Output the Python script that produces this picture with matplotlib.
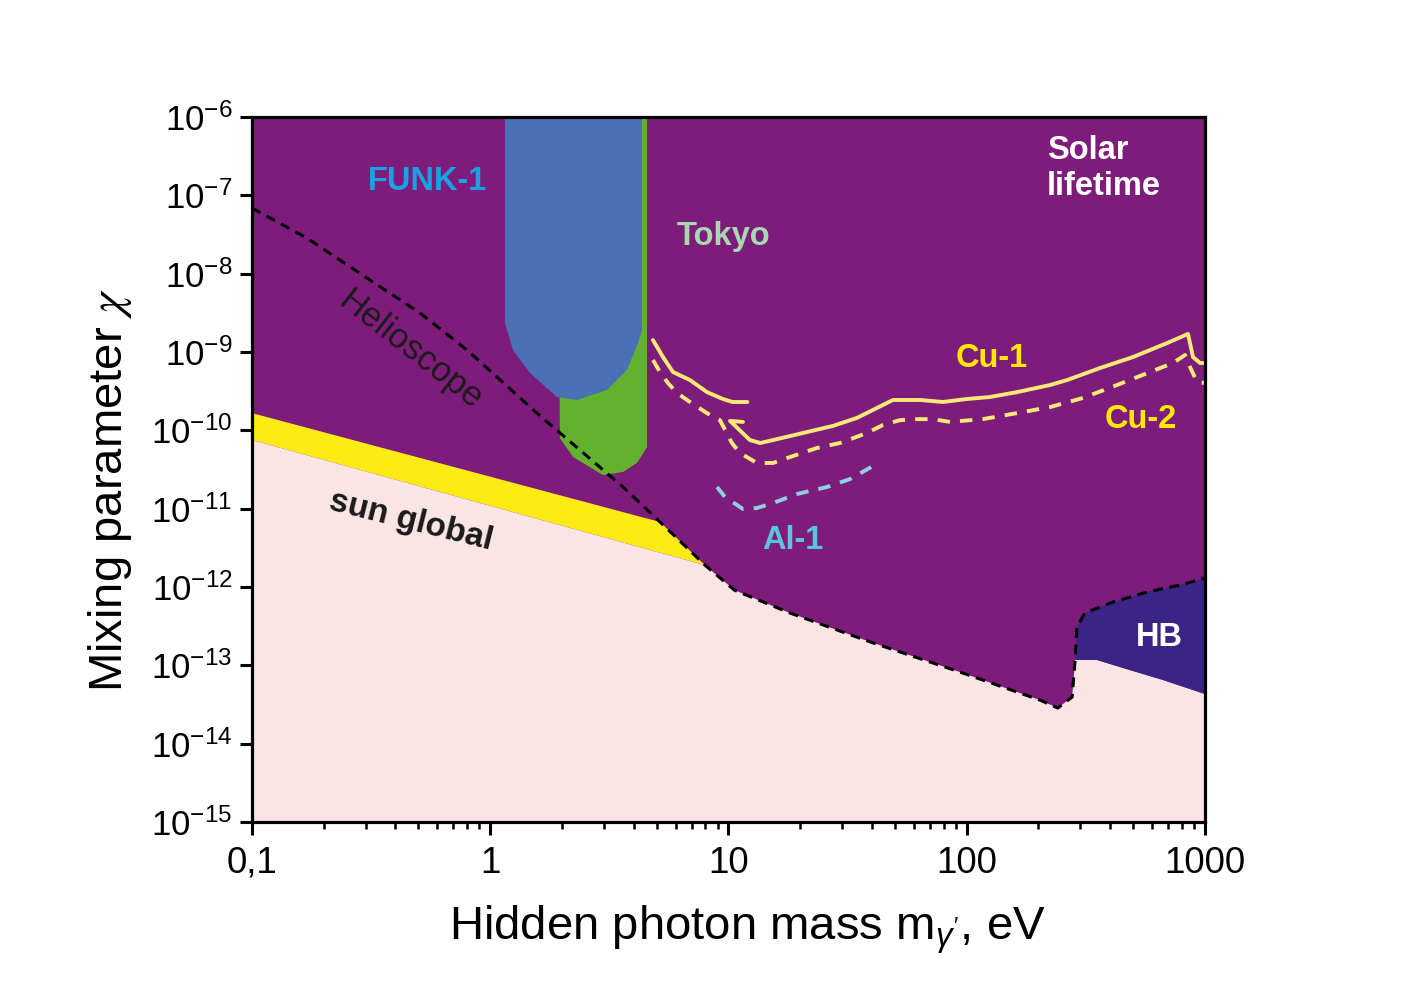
import matplotlib
matplotlib.use("Agg")
import matplotlib.pyplot as plt
from matplotlib.ticker import NullLocator, FixedLocator, FixedFormatter

plt.rcParams['font.family'] = ['Liberation Sans', 'DejaVu Sans']
plt.rcParams['mathtext.fontset'] = 'custom'
plt.rcParams['mathtext.rm'] = 'Liberation Sans'
plt.rcParams['mathtext.it'] = 'Liberation Sans:italic'
plt.rcParams['mathtext.bf'] = 'Liberation Sans:bold'

# ---------------- data (mass in eV, mixing parameter chi) ----------------
# Combined dashed boundary: helioscope + lower edge of the solar-lifetime region
bound_m = [0.1, 0.170, 0.322, 0.507, 0.799, 1.57, 3.61, 5.16, 7.97, 10.6, 18.1,
           39.3, 93.7, 203, 241, 277, 285, 290, 313, 411, 571, 785, 1000]
bound_chi = [6.89e-8, 2.85e-8, 7.82e-9, 3.15e-9, 1.06e-9, 1.66e-10, 1.89e-11,
             6.76e-12, 1.9e-12, 9.1e-13, 4.66e-13, 1.99e-13, 8.2e-14, 3.6e-14,
             2.85e-14, 3.94e-14, 1.17e-13, 3.08e-13, 4.65e-13, 6.43e-13,
             8.63e-13, 1.06e-12, 1.30e-12]

# "sun global" line (lower edge of yellow band) and yellow band upper edge
sun_m = [0.1, 7.97]
sun_chi = [7.52e-11, 1.9e-12]
yel_m = [0.1, 5.16]
yel_chi = [1.66e-10, 6.76e-12]

# HB lower edge
hb_m = [285, 352, 484, 666, 1000]
hb_chi = [1.17e-13, 1.17e-13, 8.7e-14, 6.5e-14, 4.3e-14]

# FUNK-1 excluded region
funk_m = [1.153, 1.153, 1.246, 1.468, 1.906, 2.31, 3.09, 3.75, 4.17, 4.34, 4.34]
funk_chi = [2e-6, 2.34e-9, 1.06e-9, 5.4e-10, 2.66e-10, 2.44e-10, 3.27e-10,
            5.9e-10, 1.30e-9, 1.91e-9, 2e-6]

# Tokyo excluded region
tokyo_m = [1.93, 1.96, 2.23, 2.97, 3.61, 4.13, 4.55, 4.55]
tokyo_chi = [2e-6, 7.98e-11, 4.56e-11, 2.69e-11, 2.94e-11, 3.83e-11, 6.1e-11, 2e-6]

# Cu-1 (solid), two pieces
cu1a_m = [4.82, 5.31, 5.85, 6.89, 8.12, 9.48, 10.4, 12.0]
cu1a_chi = [1.42e-9, 8.63e-10, 5.55e-10, 4.39e-10, 3.08e-10, 2.51e-10, 2.30e-10, 2.30e-10]
cu1b_m = [11.5, 10.15, 12.3, 13.6, 15.4, 21.4, 27.5, 34.6, 49.0, 63.7, 79.5, 100,
          125, 163, 224, 264, 363, 499, 693, 848, 865, 890, 953, 1000]
cu1b_chi = [1.28e-10, 1.32e-10, 7.52e-11, 6.89e-11, 7.52e-11, 9.52e-11, 1.14e-10,
            1.44e-10, 2.44e-10, 2.44e-10, 2.30e-10, 2.51e-10, 2.66e-10, 3.08e-10,
            3.79e-10, 4.39e-10, 6.25e-10, 8.63e-10, 1.30e-9, 1.70e-9, 1.30e-9,
            8.63e-10, 7.24e-10, 7.24e-10]

# Cu-2 (dashed)
cu2_m = [4.82, 5.16, 5.57, 6.08, 6.89, 8.12, 9.21, 10.34, 11.18, 13.17, 15.38,
         18.12, 23.5, 29.4, 38.1, 44.5, 52.5, 61.8, 72.2, 85.0, 117, 162.5, 223.6,
         307.6, 427.2, 587.8, 734.3, 824.3, 865, 925.6, 1000]
cu2_chi = [7.90e-10, 5.55e-10, 4.02e-10, 3.00e-10, 2.30e-10, 1.66e-10, 1.35e-10,
           6.89e-11, 5.13e-11, 3.83e-11, 3.83e-11, 4.56e-11, 5.95e-11, 6.89e-11,
           9.24e-11, 1.17e-10, 1.35e-10, 1.39e-10, 1.39e-10, 1.28e-10, 1.39e-10,
           1.66e-10, 1.98e-10, 2.59e-10, 3.79e-10, 5.55e-10, 7.24e-10, 9.15e-10,
           6.43e-10, 4.14e-10, 4.02e-10]

# Al-1 (dashed)
al1_m = [8.95, 9.67, 11.5, 13.17, 15.38, 19.4, 25.9, 32.4, 40.4]
al1_chi = [1.89e-11, 1.41e-11, 9.9e-12, 1.02e-11, 1.18e-11, 1.54e-11, 1.89e-11,
           2.39e-11, 3.50e-11]

xtick_vals = [0.1, 1, 10, 100, 1000]
xtick_labels = ['0,1', '1', '10', '100', '1000']
ytick_vals = [1e-15, 1e-14, 1e-13, 1e-12, 1e-11, 1e-10, 1e-9, 1e-8, 1e-7, 1e-6]
ytick_labels = [r'$10^{-15}$', r'$10^{-14}$', r'$10^{-13}$', r'$10^{-12}$',
                r'$10^{-11}$', r'$10^{-10}$', r'$10^{-9}$', r'$10^{-8}$',
                r'$10^{-7}$', r'$10^{-6}$']

# ---------------- colours ----------------
PURPLE = '#7D1C7A'
PINK = '#FBE4E4'
YELLOW = '#FBEA14'
BLUE = '#4A70B5'
GREEN = '#62B22F'
HBC = '#3A2486'
CULINE = '#F8E878'
ALLINE = '#8FD0E0'

fig = plt.figure(figsize=(14.02, 9.88), dpi=100)
ax = fig.add_axes([0.1797, 0.168, 0.6798, 0.7136])
ax.set_xscale('log')
ax.set_yscale('log')
ax.set_xlim(0.1, 1000)
ax.set_ylim(1e-15, 1e-6)
ax.set_facecolor(PURPLE)

LOW = 1e-16
# Tokyo and FUNK-1
ax.fill(tokyo_m, tokyo_chi, color=GREEN, lw=0, zorder=2)
ax.fill(funk_m, funk_chi, color=BLUE, lw=0, zorder=3)

# yellow band
ym = yel_m + [bound_m[8], sun_m[0]]
yc = yel_chi + [bound_chi[8], sun_chi[0]]
ax.fill(ym, yc, color=YELLOW, lw=0, zorder=2)

# pink allowed region
pm = sun_m + bound_m[9:17] + hb_m[1:] + [1000, 0.1]
pc = sun_chi + bound_chi[9:17] + hb_chi[1:] + [LOW, LOW]
ax.fill(pm, pc, color=PINK, lw=0, zorder=2)

# HB region
hm = bound_m[16:] + hb_m[::-1][:-1]
hc = bound_chi[16:] + hb_chi[::-1][:-1]
ax.fill(hm, hc, color=HBC, lw=0, zorder=2)

# dashed boundary
ax.plot(bound_m, bound_chi, color='black', lw=2.2, ls=(0, (3.2, 2.2)), zorder=5)

# Cu and Al lines
ax.plot(cu1a_m, cu1a_chi, color=CULINE, lw=2.8, zorder=4, solid_capstyle='round')
ax.plot(cu1b_m, cu1b_chi, color=CULINE, lw=2.8, zorder=4, solid_capstyle='round')
ax.plot(cu2_m, cu2_chi, color=CULINE, lw=2.8, ls=(0, (3.2, 2.6)), zorder=4)
ax.plot(al1_m, al1_chi, color=ALLINE, lw=2.8, ls=(0, (3.2, 2.6)), zorder=4)

# labels inside plot
tk = dict(transform=ax.transAxes, fontsize=23.5, fontweight='bold', zorder=6,
          ha='center', va='center')
ax.text(0.1847, 0.9080, 'FUNK-1', color='#1AA0E6', **tk)
ax.text(0.4942, 0.8300, 'Tokyo', color='#A8D8B0', **tk)
ax.text(0.7765, 0.6570, 'Cu-1', color='#FFE800', **tk)
ax.text(0.9329, 0.5705, 'Cu-2', color='#FFE800', **tk)
ax.text(0.5677, 0.3990, 'Al-1', color='#5BC4D8', **tk)
ax.text(0.9517, 0.2615, 'HB', color='white', **tk)
ax.text(0.8342, 0.9530, 'Solar', color='white', transform=ax.transAxes,
        fontsize=23.5, fontweight='bold', ha='left', va='center', zorder=6)
ax.text(0.8342, 0.9020, 'lifetime', color='white', transform=ax.transAxes,
        fontsize=23.5, fontweight='bold', ha='left', va='center', zorder=6)
ax.text(0.1658, 0.6695, 'Helioscope', color='#1A1A1A', transform=ax.transAxes,
        fontsize=25, rotation=-38, rotation_mode='anchor', ha='center',
        va='center', zorder=6)
ax.text(0.1668, 0.4270, 'sun global', color='#1A1A1A', transform=ax.transAxes,
        fontsize=24, fontweight='bold', rotation=-14, rotation_mode='anchor',
        ha='center', va='center', zorder=6)

# axes styling
for s in ax.spines.values():
    s.set_linewidth(2.3)
    s.set_zorder(10)

ax.xaxis.set_major_locator(FixedLocator(xtick_vals))
ax.xaxis.set_major_formatter(FixedFormatter(xtick_labels))
ax.yaxis.set_major_locator(FixedLocator(ytick_vals))
ax.yaxis.set_major_formatter(FixedFormatter(ytick_labels))
ax.yaxis.set_minor_locator(NullLocator())
ax.tick_params(axis='both', which='major', direction='out', length=9, width=2.2,
               labelsize=25, top=False, right=False)
ax.tick_params(axis='x', which='major', labelsize=26.5, pad=8)
ax.tick_params(axis='x', which='minor', direction='out', length=5, width=1.8,
               top=False)
ax.tick_params(axis='y', which='major', pad=5)

ax.set_xlabel(r"Hidden photon mass m$_{\gamma'}$, eV", fontsize=34)
ax.xaxis.set_label_coords(0.52, -0.115)
yl = ax.set_ylabel(r'Mixing parameter $\chi$', fontsize=34)
yl.set_math_fontfamily('stix')
ax.yaxis.set_label_coords(-0.124, 0.47)

fig.savefig('out.png', dpi=100)
